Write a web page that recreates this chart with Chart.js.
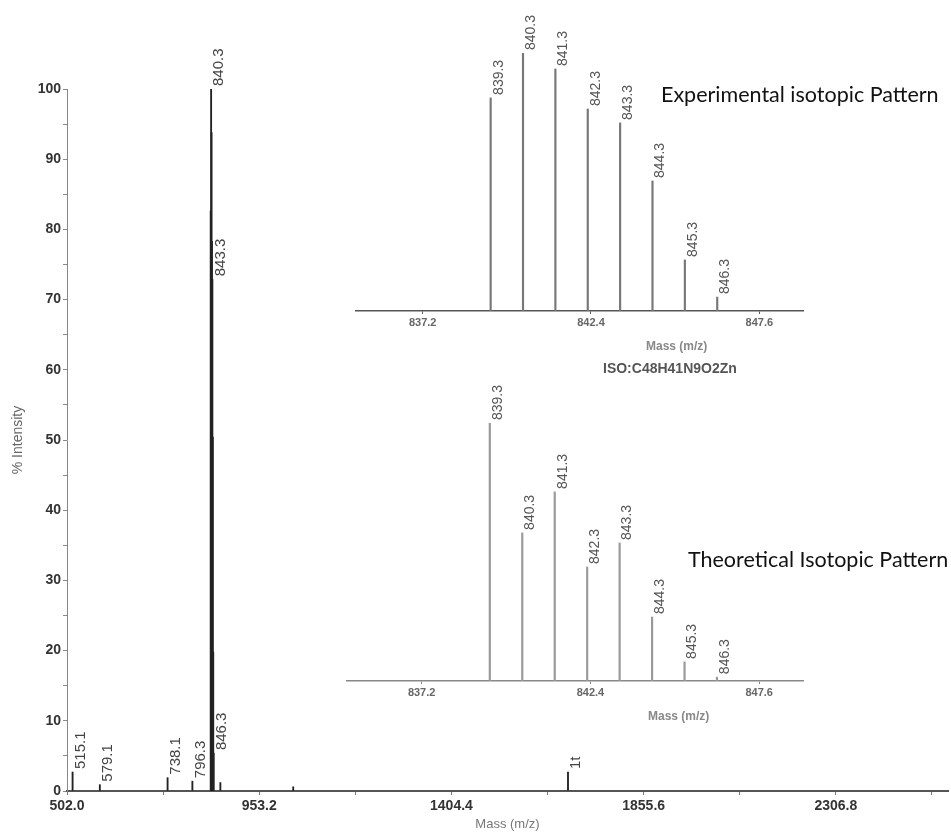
<!DOCTYPE html>
<html>
<head>
<meta charset="utf-8">
<script src="https://cdn.jsdelivr.net/npm/chart.js@4.4.1/dist/chart.umd.min.js"></script>
<style>
  html, body { margin: 0; padding: 0; background: #fff; }
  #wrap { position: relative; width: 951px; height: 834px; overflow: hidden; }
  canvas { position: absolute; }
  .note { position: absolute; white-space: nowrap; line-height: 1; }
  .pattern { font-family: Lato, 'Open Sans', sans-serif; font-size: 21.5px; color: #111; }
  .iso { font-family: 'Liberation Sans', Arial, sans-serif; font-size: 14px; font-weight: bold; color: #555; }
  .mz { font-family: 'Liberation Sans', Arial, sans-serif; font-size: 12px; font-weight: bold; color: #888; }
</style>
</head>
<body>
<div id="wrap">
  <canvas id="mainChart" width="951" height="834" style="left:0;top:0;width:951px;height:834px"></canvas>
  <canvas id="expChart" width="480" height="370" style="left:340px;top:0;width:480px;height:370px"></canvas>
  <canvas id="theoChart" width="480" height="380" style="left:340px;top:370px;width:480px;height:380px"></canvas>
  <div class="note pattern" style="left:661px;top:84px">Experimental isotopic Pattern</div>
  <div class="note mz" style="left:646px;top:340px">Mass (m/z)</div>
  <div class="note iso" style="left:603px;top:361px">ISO:C48H41N9O2Zn</div>
  <div class="note pattern" style="left:688px;top:549px">Theoretical Isotopic Pattern</div>
  <div class="note mz" style="left:648px;top:710px">Mass (m/z)</div>
</div>
<script>
// full spectrum
const mainMz = [515.1, 579.1, 738.1, 796.3, 839.3, 840.3, 841.3, 842.3, 843.3, 844.3, 845.3, 846.3, 862.0, 1033.0, 1678.0];
const mainIntensity = [2.7, 0.9, 1.9, 1.4, 82.6, 100, 93.8, 78.3, 72.9, 50.4, 19.8, 5.4, 1.2, 0.6, 2.7];
const mainLabels = ['515.1', '579.1', '738.1', '796.3', '', '840.3', '', '', '843.3', '', '', '846.3', '', '', '1t'];
const mainXTicks = [502.0, 727.6, 953.2, 1178.8, 1404.4, 1630.0, 1855.6, 2081.2, 2306.8, 2532.4];
const mainXLabelled = [502.0, 953.2, 1404.4, 1855.6, 2306.8];

// isotope cluster, zoomed
const isoMz = [839.3, 840.3, 841.3, 842.3, 843.3, 844.3, 845.3, 846.3];
const isoLabels = ['839.3', '840.3', '841.3', '842.3', '843.3', '844.3', '845.3', '846.3'];
const expIntensity = [82.6, 100, 93.8, 78.3, 72.9, 50.4, 19.8, 5.4];
const theoIntensity = [100, 57.4, 73.3, 44.2, 53.5, 24.8, 7.4, 1.5];
const isoXTicks = [837.2, 842.4, 847.6];

const sans = "'Liberation Sans', Arial, sans-serif";

// rotated m/z labels sitting on top of each peak
const peakLabels = {
    id: 'peakLabels',
    afterDatasetsDraw(chart, args, opts) {
        if (!opts.labels) return;
        const ctx = chart.ctx;
        const meta = chart.getDatasetMeta(0);
        ctx.save();
        ctx.font = opts.font;
        ctx.fillStyle = opts.color;
        ctx.textBaseline = 'middle';
        ctx.textAlign = 'left';
        opts.labels.forEach((txt, i) => {
            if (!txt) return;
            const bar = meta.data[i];
            ctx.save();
            ctx.translate(bar.x + opts.dx, bar.y - 3);
            ctx.rotate(-Math.PI / 2);
            ctx.fillText(txt, 0, 0);
            ctx.restore();
        });
        ctx.restore();
    }
};

function points(xs, ys) {
    return xs.map((x, i) => ({ x: x, y: ys[i] }));
}

function fixTicks(values) {
    return function (scale) {
        scale.ticks = values.map(v => ({ value: v }));
    };
}

new Chart(document.getElementById('mainChart'), {
    type: 'bar',
    data: {
        datasets: [{
            data: points(mainMz, mainIntensity),
            backgroundColor: '#222',
            barThickness: 1.2
        }]
    },
    options: {
        responsive: false,
        animation: false,
        events: [],
        layout: { padding: { top: 89, right: 3, left: 0, bottom: 0 } },
        plugins: {
            legend: { display: false },
            tooltip: { enabled: false },
            peakLabels: {
                labels: mainLabels,
                font: '15px ' + sans,
                color: '#444',
                dx: 8
            }
        },
        scales: {
            x: {
                type: 'linear',
                offset: false,
                min: 502.0,
                max: 2570,
                afterBuildTicks: fixTicks(mainXTicks),
                afterFit(scale) { scale.height = 43; },
                grid: { offset: false, drawOnChartArea: false, drawTicks: true, tickLength: 4, color: '#777' },
                border: { display: true, color: '#555', width: 2 },
                ticks: {
                    autoSkip: false,
                    maxRotation: 0,
                    padding: 3,
                    color: '#333',
                    font: { family: sans, size: 14, weight: 'bold' },
                    callback: v => mainXLabelled.includes(v) ? v.toFixed(1) : ''
                },
                title: {
                    display: true,
                    text: 'Mass (m/z)',
                    color: '#777',
                    font: { family: sans, size: 13 },
                    padding: { top: 0, bottom: 2 }
                }
            },
            y: {
                min: 0,
                max: 100,
                afterFit(scale) { scale.width = 67; },
                grid: { drawOnChartArea: false, drawTicks: true, tickLength: 4, color: '#888' },
                border: { display: true, color: '#888', width: 1 },
                ticks: {
                    stepSize: 5,
                    padding: 2,
                    color: '#333',
                    font: { family: sans, size: 14, weight: 'bold' },
                    callback: v => v % 10 === 0 ? String(v) : ''
                },
                title: {
                    display: true,
                    text: '% Intensity',
                    color: '#666',
                    font: { family: sans, size: 14 },
                    padding: { top: 10, bottom: 0 }
                }
            }
        }
    },
    plugins: [peakLabels]
});

function isoChart(id, values, opts) {
    return new Chart(document.getElementById(id), {
        type: 'bar',
        data: {
            datasets: [{
                data: points(isoMz, values),
                backgroundColor: opts.barColor,
                barThickness: 1.5
            }]
        },
        options: {
            responsive: false,
            animation: false,
            events: [],
            layout: { padding: { top: 53, right: 17, left: opts.padLeft, bottom: 0 } },
            plugins: {
                legend: { display: false },
                tooltip: { enabled: false },
                peakLabels: {
                    labels: isoLabels,
                    font: '14px ' + sans,
                    color: '#555',
                    dx: 8
                }
            },
            scales: {
                x: {
                    type: 'linear',
                    offset: false,
                    min: opts.min,
                    max: 848.95,
                    afterBuildTicks: fixTicks(isoXTicks),
                    afterFit(scale) { scale.height = opts.axisHeight; },
                    grid: { offset: false, drawOnChartArea: false, drawTicks: true, tickLength: 3, color: opts.axisColor },
                    border: { display: true, color: opts.axisColor, width: 1.5 },
                    ticks: {
                        autoSkip: false,
                        maxRotation: 0,
                        padding: 2,
                        color: '#666',
                        font: { family: sans, size: 11, weight: 'bold' },
                        callback: v => v.toFixed(1)
                    }
                },
                y: { display: false, min: 0, max: 100 }
            }
        },
        plugins: [peakLabels]
    });
}

isoChart('expChart', expIntensity, {
    padLeft: 16, min: 835.14, axisHeight: 59, barColor: '#777', axisColor: '#555'
});
isoChart('theoChart', theoIntensity, {
    padLeft: 7, min: 834.9, axisHeight: 69, barColor: '#999', axisColor: '#888'
});
</script>
</body>
</html>
